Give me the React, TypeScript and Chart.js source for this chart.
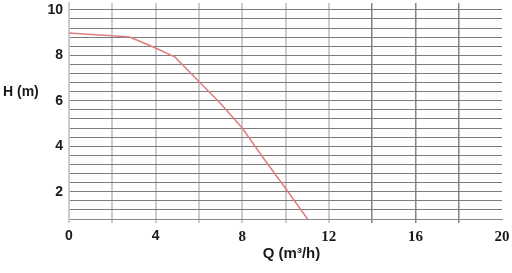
import React, { useEffect, useRef } from "react";
import { Chart, registerables } from "chart.js";

Chart.register(...registerables);

const Q_VALUES = [0, 1, 2, 2.8, 4, 4.9, 6, 7, 8, 9, 10, 11.02];
const H_VALUES = [8.98, 8.92, 8.86, 8.8, 8.32, 7.92, 6.85, 5.88, 4.8, 3.45, 2.15, 0.8];
const X_TICK_LABELS = ["0", "4", "8", "12", "16", "20"];
const Y_TICK_LABELS = ["2", "4", "6", "8", "10"];
const Y_MIN = 0.8;
const Y_MAX = 10.3;
const Y_GRID_STEP = 0.4;
const Y_GRID_TOP = 10;
const X_TITLE = "Q (m³/h)";
const Y_TITLE = "H (m)";

const titlesPlugin = {
  id: "axisTitles",
  afterDraw(chart: any) {
    const { ctx, chartArea } = chart;
    ctx.save();
    ctx.fillStyle = "#1a1a1a";
    ctx.textBaseline = "middle";
    ctx.font = "bold 14px 'Liberation Sans', Arial, sans-serif";
    ctx.textAlign = "left";
    ctx.fillText(Y_TITLE, 3, 92);
    ctx.font = "bold 15px 'Liberation Sans', Arial, sans-serif";
    ctx.textAlign = "center";
    ctx.fillText(X_TITLE, (chartArea.left + chartArea.right) / 2 + 6, chartArea.bottom + 35);
    ctx.restore();
  },
};

export default function App() {
  const ref = useRef<HTMLCanvasElement>(null);
  useEffect(() => {
    document.body.style.margin = "0";
    const canvas = ref.current!;
    const chart = new Chart(canvas, {
      type: "line",
      data: {
        datasets: [
          {
            data: Q_VALUES.map((q, i) => ({ x: q, y: H_VALUES[i] })),
            borderColor: "#e07c7c",
            borderWidth: 1.5,
            pointRadius: 0,
            tension: 0,
            fill: false,
          },
        ],
      },
      options: {
        animation: false,
        responsive: false,
        layout: { padding: { top: 3, right: 10, bottom: 0, left: 0 } },
        plugins: { legend: { display: false }, tooltip: { enabled: false } },
        scales: {
          x: {
            type: "linear",
            min: 0,
            max: 20,
            afterFit(scale: any) {
              scale.height = 54;
              scale.paddingLeft = 0;
              scale.paddingRight = 0;
            },
            ticks: {
              stepSize: 2,
              autoSkip: false,
              maxRotation: 0,
              padding: 5,
              color: "#1a1a1a",
              callback: (v: any) => (X_TICK_LABELS.includes(String(v)) ? String(v) : ""),
              font: (ctx: any) =>
                ctx.tick && ctx.tick.value < 8
                  ? { family: "'Liberation Sans', Arial, sans-serif", size: 14, weight: "bold" }
                  : { family: "'Liberation Serif', 'Times New Roman', serif", size: 15, weight: "bold" },
            },
            grid: {
              tickLength: 4,
              color: (ctx: any) => {
                const v = ctx.tick ? ctx.tick.value : 0;
                if (v >= 20) return "rgba(0,0,0,0)";
                return v <= 12 ? "#cacccf" : "#858585";
              },
              lineWidth: (ctx: any) => {
                const v = ctx.tick ? ctx.tick.value : 0;
                return v <= 12 ? 2 : 1.5;
              },
            },
            border: { color: "#888888", width: 1 },
          },
          y: {
            type: "linear",
            min: Y_MIN,
            max: Y_MAX,
            afterFit(scale: any) {
              scale.width = 69;
              scale.paddingTop = 0;
              scale.paddingBottom = 0;
            },
            afterBuildTicks(scale: any) {
              const ticks = [];
              for (let v = Y_MIN; v <= Y_GRID_TOP + 1e-6; v += Y_GRID_STEP) {
                ticks.push({ value: Math.round(v * 10) / 10 });
              }
              scale.ticks = ticks;
            },
            ticks: {
              autoSkip: false,
              padding: 6,
              color: "#1a1a1a",
              font: { family: "'Liberation Sans', Arial, sans-serif", size: 14, weight: "bold" },
              callback: (v: any) => (Y_TICK_LABELS.includes(String(v)) ? String(v) : ""),
            },
            grid: {
              drawTicks: false,
              color: "#7c7c7c",
              lineWidth: 1,
            },
            border: { color: "#cacccf", width: 2 },
          },
        },
      },
      plugins: [titlesPlugin],
    });
    return () => chart.destroy();
  }, []);
  return (
    <div style={{ width: 512, height: 273 }}>
      <canvas ref={ref} width={512} height={273} style={{ display: "block" }} />
    </div>
  );
}
